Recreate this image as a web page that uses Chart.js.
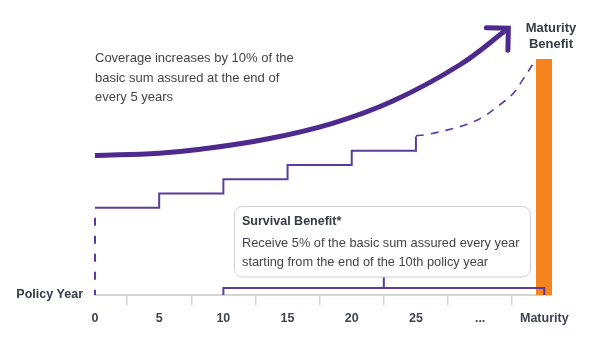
<!DOCTYPE html>
<html>
<head>
<meta charset="utf-8">
<script src="https://cdn.jsdelivr.net/npm/chart.js@4"></script>
<style>
  html, body { margin: 0; padding: 0; background: #fff; }
  #wrap { width: 592px; height: 346px; }
</style>
</head>
<body>
<div id="wrap"><canvas id="chart" width="592" height="346"></canvas></div>
<script>
// Policy years on x, coverage level (% of basic sum, schematic) on y
var xTickValues = [0, 5, 10, 15, 20, 25, 30, 35];
var xTickLabels = ['0', '5', '10', '15', '20', '25', '...', 'Maturity'];

var stepYears = [0, 5, 10, 15, 20, 25];
var stepCover = [100, 110, 120, 130, 140, 150];

var trendYears = [0, 5, 8.2, 13.4, 18.5, 23.2, 28.4, 32.2];
var trendValues = [136.6, 138.3, 141, 148.2, 159.2, 174.8, 200, 225.7];

var projYears = [25, 26, 27.4, 29, 30.2, 31.5, 32.6, 33.3, 34.35];
var projValues = [150.4, 151.6, 154.4, 158.6, 163.5, 171.9, 180.3, 189.4, 204];

var maturityYears = [35];
var maturityValues = [204];

var survivalYears = [10, 35];
var baseLevel = 39;
var bracketLevel = 43.9;
var calloutLevel = 51.6;

var PURPLE = '#4e2a8e';
var PURPLE_LIGHT = '#5b3c9e';
var ORANGE = '#f5841f';
var FONT = '"Liberation Sans", Arial, sans-serif';

function pts(xs, ys) {
    return xs.map(function(x, i) { return { x: x, y: ys[i] }; });
}

var midSurvival = (survivalYears[0] + survivalYears[1]) / 2;

var annotations = {
    id: 'annotations',
    afterDatasetsDraw: function(chart) {
        var ctx = chart.ctx;
        var area = chart.chartArea;

        // arrow head at the end of the trend curve (tilted a bit, as drawn)
        var pts = chart.getDatasetMeta(0).data;
        var tip = pts[pts.length - 1];
        var prev = pts[pts.length - 2];
        var ang = Math.atan2(tip.y - prev.y, tip.x - prev.x) - 0.12;
        var len = 22;
        ctx.save();
        ctx.strokeStyle = PURPLE;
        ctx.lineWidth = 5;
        ctx.lineCap = 'round';
        ctx.lineJoin = 'miter';
        ctx.beginPath();
        ctx.moveTo(tip.x + len * Math.cos(ang + Math.PI * 0.75), tip.y + len * Math.sin(ang + Math.PI * 0.75));
        ctx.lineTo(tip.x, tip.y);
        ctx.lineTo(tip.x + len * Math.cos(ang - Math.PI * 0.75), tip.y + len * Math.sin(ang - Math.PI * 0.75));
        ctx.stroke();
        ctx.restore();

        ctx.save();
        ctx.textBaseline = 'middle';

        // coverage note
        ctx.fillStyle = '#444';
        ctx.font = '13px ' + FONT;
        ctx.textAlign = 'left';
        ctx.fillText('Coverage increases by 10% of the', 95, 58);
        ctx.fillText('basic sum assured at the end of', 95, 78);
        ctx.fillText('every 5 years', 95, 97);

        // maturity benefit label
        ctx.fillStyle = '#333b45';
        ctx.font = 'bold 13px ' + FONT;
        ctx.textAlign = 'center';
        ctx.fillText('Maturity', 551, 28);
        ctx.fillText('Benefit', 551, 44);

        // axis title
        ctx.font = 'bold 12.5px ' + FONT;
        ctx.textAlign = 'right';
        ctx.fillText('Policy Year', area.left - 12, area.bottom);

        // survival benefit box
        var bx = 234.5, by = 206.5, bw = 296, bh = 70.5;
        ctx.beginPath();
        ctx.roundRect(bx, by, bw, bh, 8);
        ctx.fillStyle = '#fff';
        ctx.fill();
        ctx.strokeStyle = '#cfcfcf';
        ctx.lineWidth = 1;
        ctx.stroke();

        ctx.textAlign = 'left';
        ctx.fillStyle = '#333b45';
        ctx.font = 'bold 12.5px ' + FONT;
        ctx.fillText('Survival Benefit*', 242, 222);
        ctx.fillStyle = '#444';
        ctx.font = '12.8px ' + FONT;
        ctx.fillText('Receive 5% of the basic sum assured every year', 242, 243);
        ctx.fillText('starting from the end of the 10th policy year', 242, 262);
        ctx.restore();
    }
};

new Chart(document.getElementById('chart'), {
    type: 'line',
    data: {
        datasets: [{
            // rising coverage arrow
            data: pts(trendYears, trendValues),
            borderColor: PURPLE,
            borderWidth: 5,
            tension: 0.4,
            pointRadius: 0,
            clip: 8,
            order: 0
        }, {
            // stepped coverage
            data: pts(stepYears, stepCover),
            borderColor: PURPLE_LIGHT,
            borderWidth: 2,
            stepped: true,
            pointRadius: 0,
            clip: 4,
            order: 1
        }, {
            // projected coverage to maturity
            data: pts(projYears, projValues),
            borderColor: PURPLE_LIGHT,
            borderWidth: 1.6,
            borderDash: [8, 7],
            tension: 0.4,
            pointRadius: 0,
            order: 1
        }, {
            // start of policy
            data: pts([0, 0], [stepCover[0], baseLevel]),
            borderColor: PURPLE_LIGHT,
            borderWidth: 2,
            borderDash: [8, 10],
            borderDashOffset: 8,
            pointRadius: 0,
            clip: 4,
            order: 1
        }, {
            // survival benefit period bracket
            data: pts([survivalYears[0], survivalYears[0], survivalYears[1], survivalYears[1]],
                      [baseLevel, bracketLevel, bracketLevel, baseLevel]),
            borderColor: PURPLE_LIGHT,
            borderWidth: 2,
            tension: 0,
            pointRadius: 0,
            order: 1
        }, {
            data: pts([midSurvival, midSurvival], [bracketLevel, calloutLevel]),
            borderColor: PURPLE_LIGHT,
            borderWidth: 2,
            pointRadius: 0,
            order: 1
        }, {
            type: 'bar',
            data: pts(maturityYears, maturityValues),
            backgroundColor: ORANGE,
            barThickness: 16,
            order: 10
        }]
    },
    options: {
        responsive: false,
        animation: false,
        events: [],
        layout: { padding: { top: 15, left: 95, right: 40, bottom: 0 } },
        plugins: {
            legend: { display: false },
            tooltip: { enabled: false }
        },
        scales: {
            x: {
                type: 'linear',
                min: 0,
                max: 35.6,
                offset: false,
                afterFit: function(scale) { scale.height = 51; },
                afterBuildTicks: function(axis) {
                    axis.ticks = xTickValues.map(function(v) { return { value: v }; });
                },
                ticks: {
                    padding: 6,
                    color: '#3d4450',
                    font: { family: FONT, size: 12.5, weight: 'bold' },
                    callback: function(value) {
                        var i = xTickValues.indexOf(value);
                        return i >= 0 ? xTickLabels[i] : '';
                    }
                },
                grid: {
                    drawOnChartArea: false,
                    tickLength: 10,
                    color: '#d4d4d4',
                    lineWidth: 1.5
                },
                border: { color: '#d4d4d4', width: 2 }
            },
            y: {
                display: false,
                min: baseLevel,
                max: 235
            }
        }
    },
    plugins: [annotations]
});
</script>
</body>
</html>
